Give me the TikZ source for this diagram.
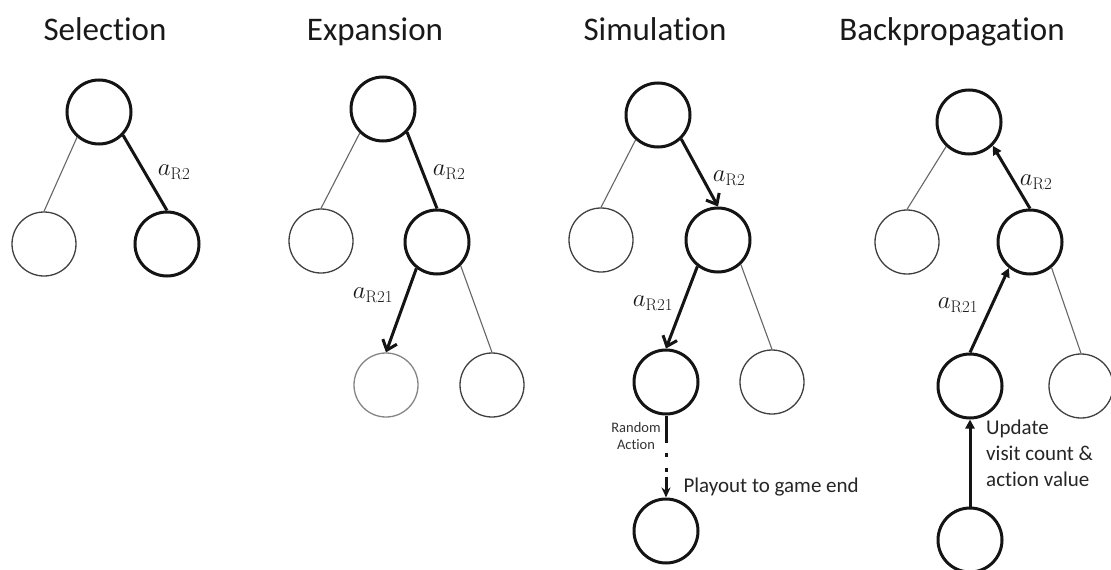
\documentclass[tikz,border=0pt]{standalone}
\usepackage{fontspec}
\setmainfont{Carlito}[Ligatures=NoCommon]
\setmathrm{Latin Modern Roman}
\usetikzlibrary{arrows.meta}
\begin{document}
\begin{tikzpicture}[x=1pt,y=-1pt,
  thicknode/.style={circle, draw=black!92, line width=3pt, minimum size=64pt, inner sep=0pt},
  thinnode/.style={circle, draw=black!75, line width=1.3pt, minimum size=64pt, inner sep=0pt},
  palenode/.style={circle, draw=black!48, line width=1.3pt, minimum size=64pt, inner sep=0pt},
  thickedge/.style={draw=black!92, line width=3pt},
  thinedge/.style={draw=black!60, line width=1.1pt},
  barb/.style={-{Straight Barb[length=9pt,width=15pt]}},
  backtip/.style={-{Triangle[length=9pt,width=9pt]}},
  title/.style={font=\fontsize{33}{38}\selectfont, anchor=base, text=black!90},
  lbl/.style={font=\fontsize{24}{28}\selectfont, text=black!90},
  note/.style={font=\fontsize{21}{26}\selectfont, text=black!85, align=left},
  small/.style={font=\fontsize{14.5}{17.5}\selectfont, text=black!80, align=center}
]
\fill[white] (0,0) rectangle (1111,570);
\useasboundingbox (0,0) rectangle (1111,570);

% ---------- Selection ----------
\node[title] (t1) at (105,40) {Selection};
\node[thicknode] (a0) at (99,112) {};
\node[thinnode]  (a1) at (44,244) {};
\node[thicknode] (a2) at (167,244) {};
\draw[thinedge]  (a0.-131) -- (a1.north);
\draw[thickedge] (a0.-44) -- (a2.north);
\node[lbl] (la) at (174,172) {$a_{\mathrm{R2}}$};

% ---------- Expansion ----------
\node[title] (t2) at (375,40) {Expansion};
\node[thicknode] (b0) at (383,109) {};
\node[thinnode]  (b1) at (321,241) {};
\node[thicknode] (b2) at (437,242) {};
\node[palenode]  (b3) at (386,385) {};
\node[thinnode]  (b4) at (492,385) {};
\draw[thinedge]  (b0.-134) -- (b1.north);
\draw[thickedge] (b0.-44) -- (b2.north);
\draw[thickedge,barb] (b2.-128) -- (b3.north);
\draw[thinedge]  (b2.-45) -- (b4.north);
\node[lbl] (lb1) at (449,172) {$a_{\mathrm{R2}}$};
\node[lbl] (lb2) at (373,295) {$a_{\mathrm{R21}}$};

% ---------- Simulation ----------
\node[title] (t3) at (655,40) {Simulation};
\node[thicknode] (c0) at (658,115) {};
\node[thinnode]  (c1) at (601,240) {};
\node[thicknode] (c2) at (718,240) {};
\node[thicknode] (c3) at (666,382) {};
\node[thinnode]  (c4) at (772,382) {};
\node[thicknode] (c5) at (666,531) {};
\draw[thinedge]  (c0.-132) -- (c1.north);
\draw[thickedge,barb] (c0.-46) -- (c2.north);
\draw[thickedge,barb] (c2.-128) -- (c3.north);
\draw[thinedge]  (c2.-47) -- (c4.north);
\draw[thickedge, dash pattern=on 27pt off 10pt on 4pt off 11pt on 4pt off 5pt on 30pt,
      -{Stealth[length=10pt,width=9pt]}] (c3.south) -- (c5.north);
\node[lbl] (lc1) at (729,178) {$a_{\mathrm{R2}}$};
\node[lbl] (lc2) at (653,303) {$a_{\mathrm{R21}}$};
\node[small] (lc3) at (636,436) {Random\\Action};
\node[note, anchor=west] (lc4) at (680,487) {Playout to game end};

% ---------- Backpropagation ----------
\node[title] (t4) at (952,40) {Backpropagation};
\node[thicknode] (d0) at (969,122) {};
\node[thinnode]  (d1) at (907,242) {};
\node[thicknode] (d2) at (1030,242) {};
\node[thicknode] (d3) at (970,386) {};
\node[thinnode]  (d4) at (1081,386) {};
\node[thicknode] (d5) at (970,540) {};
\draw[thinedge]  (d0.-133) -- (d1.north);
\draw[thickedge,backtip] (d2.north) -- (d0.-45);
\draw[thickedge,backtip] (d3.north) -- (d2.-129);
\draw[thinedge]  (d2.-50) -- (d4.north);
\draw[thickedge,backtip] (d5.north) -- (d3.south);
\node[lbl] (ld1) at (1036,182) {$a_{\mathrm{R2}}$};
\node[lbl] (ld2) at (958,305) {$a_{\mathrm{R21}}$};
\node[note, anchor=north west, inner sep=0pt] (ld3) at (986,420) {Update\\visit count \&\\action value};
\end{tikzpicture}
\end{document}
